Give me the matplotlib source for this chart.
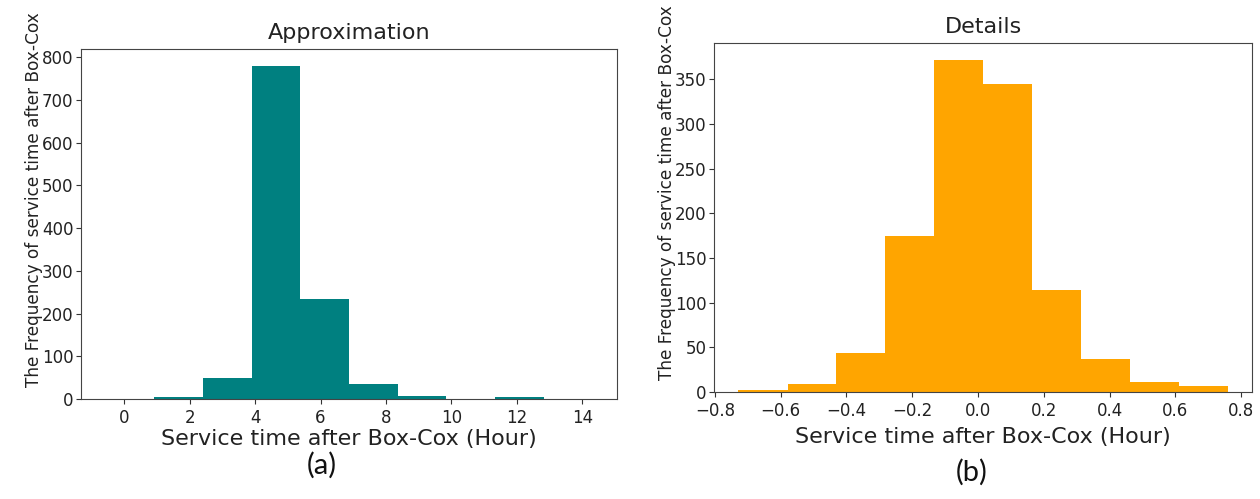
import numpy as np
import matplotlib
matplotlib.use("Agg")
import matplotlib.pyplot as plt

# histogram bins and counts of the Box-Cox transformed service time
approx_edges = [-0.58, 0.91, 2.40, 3.89, 5.38, 6.87, 8.36, 9.85, 11.34, 12.83, 14.32]
approx_counts = [1, 4, 50, 780, 234, 35, 8, 0, 4, 1]

detail_edges = [-0.728, -0.579, -0.431, -0.282, -0.133, 0.015, 0.164, 0.313, 0.462, 0.610, 0.759]
detail_counts = [2, 9, 44, 175, 372, 345, 114, 37, 11, 7]

xlab = "Service time after Box-Cox (Hour)"
ylab = "The Frequency of service time after Box-Cox"

plt.rcParams['font.family'] = ['DejaVu Sans']

fig = plt.figure(figsize=(12.6, 4.99), dpi=100)
ax1 = fig.add_axes([0.0643, 0.2004, 0.4254, 0.7014])
ax2 = fig.add_axes([0.5667, 0.2144, 0.4270, 0.6994])

def draw(ax, edges, counts, color, title, xpad):
    edges = np.array(edges)
    ax.hist(edges[:-1], bins=edges, weights=counts, color=color)
    ax.set_title(title, fontsize=16, color='#222222', pad=7)
    ax.set_xlabel(xlab, fontsize=16, color='#222222', labelpad=xpad)
    ax.set_ylabel(ylab, fontsize=12.2, color='#222222', y=0.57, labelpad=-1)
    ax.tick_params(labelsize=12, colors='#333333', labelcolor='#222222')
    ax.tick_params(axis='x', pad=4)
    ax.tick_params(axis='y', pad=2)
    for s in ax.spines.values():
        s.set_color('#444444')

draw(ax1, approx_edges, approx_counts, 'teal', 'Approximation', 1)
draw(ax2, detail_edges, detail_counts, 'orange', 'Details', 5)

fig.text(0.2555, 0.068, "(a)", fontsize=21, family=['Lato', 'DejaVu Sans'],
         ha='center', va='center', color='#111111')
fig.text(0.7715, 0.054, "(b)", fontsize=21, family=['Lato', 'DejaVu Sans'],
         ha='center', va='center', color='#111111')

fig.savefig("out.png", dpi=100)
